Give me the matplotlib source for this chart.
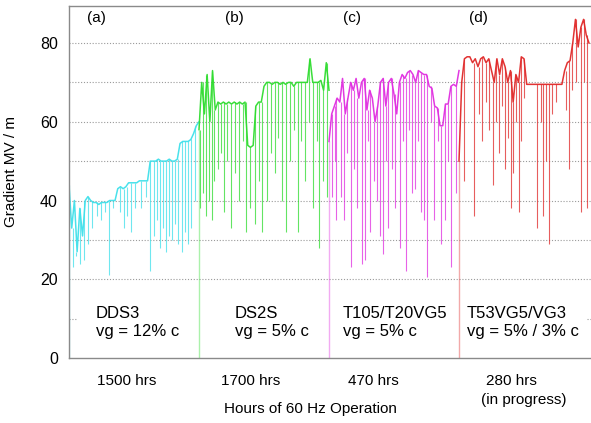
import numpy as np
import matplotlib
matplotlib.use("Agg")
import matplotlib.pyplot as plt

plt.rcParams['font.family'] = ['Liberation Sans', 'DejaVu Sans']

# ---------------- data ----------------
run_hours = [1500, 1700, 470, 280]
hours_labels = ["1500 hrs", "1700 hrs", "470 hrs", "280 hrs"]
panel_labels = ["(a)", "(b)", "(c)", "(d)"]
structure_names = ["DDS3", "DS2S", "T105/T20VG5", "T53VG5/VG3"]
group_velocity = ["vg = 12% c", "vg = 5% c", "vg = 5% c", "vg = 5% / 3% c"]
run_colors = ["#3fe0ea", "#2fdc2f", "#e02ee0", "#e02828"]

# gradient envelope readings (MV/m), evenly spaced over each run
grad_a = [44, 33, 40, 27, 38, 31, 40, 41, 40, 39.5, 39.5, 39, 39.5, 39.5, 39.5,
          40, 40, 40, 43, 43.5, 43, 43.5, 44.5, 44.5, 44.5, 44.5, 45, 45, 45, 45,
          50, 50, 50, 50.5, 50, 50, 50, 50.5, 50, 50, 50.5, 54.5, 55, 55, 55, 55.5,
          57, 59, 60]
grad_b = [58, 70, 62, 72, 60, 73, 63, 65, 64.5, 65, 64.5, 65, 64.5, 65, 64.5, 65,
          64.5, 65, 54, 53.5, 54, 64, 65, 65, 69, 70, 70, 69.5, 70, 70, 69.5, 70,
          69.5, 70, 70, 69, 70, 70, 70, 70, 70, 76, 70, 70, 70, 70.5, 68, 75, 68]
grad_c = [55, 62, 64, 66, 65, 71, 62, 66, 70, 68, 71, 66, 70, 71, 63, 68, 66, 60,
          64, 70, 71, 64, 70, 71, 67, 62, 70, 72, 71, 72.5, 73, 72, 70, 73, 72.5,
          72, 72, 69, 68.5, 64, 63.5, 59, 59, 64.5, 64.5, 69, 69.5, 69, 73]
grad_d = [50, 70, 76, 76.5, 76.5, 75, 76, 74, 76, 76.5, 75, 76, 73, 70, 76, 72,
          76, 74, 70, 73, 65, 72, 70, 76.5, 76, 69.5, 69.5, 69.5, 69.5, 69.5, 69.5,
          69.5, 69.5, 69.5, 69.5, 69.5, 69.5, 69.5, 69.5, 73, 75, 75.5, 80, 86, 79,
          84, 86, 82, 80]

# trips / breakdown dips: time into run (hrs) and gradient reached (MV/m)
dip_a_hrs = [46, 80, 126, 172, 218, 264, 321, 366, 412, 458, 504, 584, 630, 664,
             710, 767, 825, 893, 939, 984, 1019, 1053, 1088, 1122, 1157, 1191,
             1226, 1260, 1305, 1340, 1374, 1409, 1454]
dip_a_val = [23, 26, 24, 25, 29, 33, 36, 35, 37, 21, 38, 37, 33, 36, 32, 38, 38,
             41, 22, 31, 35, 28, 33, 27, 31, 30, 34, 29, 27, 32, 29, 33, 40]
dip_b_hrs = [13, 52, 92, 131, 170, 196, 248, 287, 326, 366, 418, 471, 524, 575,
             615, 666, 733, 785, 824, 889, 942, 994, 1034, 1085, 1137, 1190, 1243,
             1295, 1335, 1386, 1438, 1491, 1544, 1569, 1622, 1675]
dip_b_val = [38, 42, 36, 40, 35, 45, 48, 52, 37, 50, 33, 47, 40, 55, 32, 38, 34,
             45, 32, 40, 52, 47, 56, 40, 32, 50, 58, 32, 55, 45, 60, 38, 55, 28,
             45, 41]
dip_c_hrs = [11, 22, 26, 44, 55, 66, 81, 92, 103, 118, 129, 140, 147, 162, 173,
             184, 195, 206, 213, 228, 239, 257, 268, 279, 290, 301, 312, 323, 334,
             345, 353, 367, 378, 393, 404, 419, 430, 441, 459]
dip_c_val = [41, 50, 35, 41, 35, 52, 23, 48, 38, 24, 25, 55, 32, 45, 40, 31, 26.5,
             50, 33, 48, 38, 28, 55, 22, 58, 42, 43, 55, 37, 35, 20.5, 60, 35, 55,
             29, 35, 50, 23, 42]
dip_d_hrs = [11, 32, 43, 50, 58, 65, 73, 80, 86, 93, 99, 106, 112, 116, 123, 129,
             134, 140, 168, 177, 181, 187, 194, 200, 209, 230, 237, 243, 252, 263,
             269, 276]
dip_d_val = [45, 36, 62, 55, 65, 58, 44, 60, 52, 64, 48, 56, 38, 47, 60, 37, 55,
             66, 33, 60, 36, 50, 29, 62, 65, 63, 48, 68, 70, 37, 70, 38]

grads = [grad_a, grad_b, grad_c, grad_d]
dips_hrs = [dip_a_hrs, dip_b_hrs, dip_c_hrs, dip_d_hrs]
dips_val = [dip_a_val, dip_b_val, dip_c_val, dip_d_val]

# ---------------- figure ----------------
fig = plt.figure(figsize=(5.91, 4.23), dpi=100)
ax = fig.add_axes([69 / 591, 1 - 358 / 423, 522 / 591, 352 / 423])
ax.set_xlim(0, 522 / 130)
ax.set_ylim(0, 89.4)

for i in range(4):
    hrs = run_hours[i]
    g = np.asarray(grads[i], float)
    t_base = np.linspace(0, hrs, len(g))
    x = i + t_base / hrs
    # turn-on line from zero
    ax.vlines(x[0], 0, g[0], color=run_colors[i], lw=1.0, alpha=0.4, zorder=2)
    ax.plot(x, g, color=run_colors[i], lw=1.1, alpha=0.95, zorder=2.2)
    # dips: thin vertical spikes down from the nearest envelope reading
    td = np.asarray(dips_hrs[i], float)
    dv = np.asarray(dips_val[i], float)
    idx = np.abs(t_base[None, :] - td[:, None]).argmin(axis=1)
    ax.vlines(i + td / hrs, dv, g[idx], color=run_colors[i], lw=0.8, alpha=0.75,
              zorder=2.1)

# y axis
ax.set_yticks([0, 20, 40, 60, 80])
ax.tick_params(axis='y', which='both', length=0, pad=8, labelsize=11.5)
grid_kw = dict(ls=(0, (1.0, 1.6)), color='#9a9a9a', lw=0.8, zorder=0.5)
for gv in range(20, 90, 10):
    ax.axhline(gv, **grid_kw)
# the 10 MV/m grid line is masked by the annotation boxes except at the edges
ax.axhline(10, xmin=0, xmax=0.015, **grid_kw)
ax.axhline(10, xmin=0.992, xmax=1, **grid_kw)
ax.set_ylabel("Gradient MV / m", fontsize=11)
ax.yaxis.set_label_coords(-0.098, 0.53)

# x axis: labels per run
ax.set_xticks([])
hrs_x = [0.44, 1.40, 2.34, 3.40]
for xi, lab in zip(hrs_x, hours_labels):
    ax.text(xi, -0.065, lab, transform=ax.get_xaxis_transform(), ha='center',
            va='center', fontsize=11)
ax.text(3.50, -0.119, "(in progress)", transform=ax.get_xaxis_transform(),
        ha='center', va='center', fontsize=11)
ax.set_xlabel("Hours of 60 Hz Operation", fontsize=11)
ax.xaxis.set_label_coords(0.462, -0.125)

# panel labels and structure annotations
panel_x = [0.21, 1.27, 2.18, 3.15]
for xi, lab in zip(panel_x, panel_labels):
    ax.text(xi, 86.3, lab, ha='center', va='center', fontsize=11)
name_x = [0.208, 1.277, 2.108, 3.06]
for xi, nm, vg in zip(name_x, structure_names, group_velocity):
    ax.text(xi, 9.0, nm + "\n" + vg, ha='left', va='center', fontsize=12,
            linespacing=1.2, zorder=1.5)

for s in ['left', 'bottom', 'top']:
    ax.spines[s].set_color('#8a8a8a')
    ax.spines[s].set_linewidth(1.0)
ax.spines['right'].set_visible(False)

fig.savefig("out.png", dpi=100)
